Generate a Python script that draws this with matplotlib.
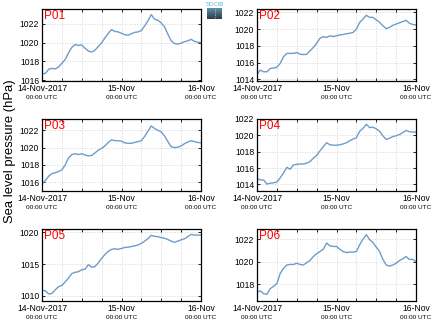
import numpy as np
import matplotlib
matplotlib.use('Agg')
import matplotlib.pyplot as plt
import matplotlib.dates as mdates
from datetime import datetime, timedelta

plt.rcParams['font.family'] = ['Liberation Sans', 'DejaVu Sans']

# hourly sea level pressure (hPa), 14-Nov-2017 00:00 -> 16-Nov 00:00 UTC
START = datetime(2017, 11, 14)
HOURS = list(range(49))

p01 = [1016.7, 1016.7, 1017.15, 1017.25, 1017.2, 1017.4, 1017.8, 1018.2, 1018.9, 1019.5,
       1019.8, 1019.7, 1019.75, 1019.4, 1019.1, 1019.0, 1019.2, 1019.6, 1020.0, 1020.5,
       1021.0, 1021.4, 1021.2, 1021.15, 1021.0, 1020.85, 1020.8, 1020.95, 1021.1, 1021.15,
       1021.3, 1021.8, 1022.35, 1023.0, 1022.5, 1022.4, 1022.1, 1021.7, 1020.9, 1020.2,
       1019.9, 1019.85, 1019.95, 1020.1, 1020.2, 1020.35, 1020.15, 1020.05, 1020.0]
p02 = [1014.6, 1015.1, 1014.9, 1014.9, 1015.3, 1015.35, 1015.45, 1015.9, 1016.7, 1017.1,
       1017.1, 1017.1, 1017.2, 1017.0, 1016.95, 1017.0, 1017.4, 1017.8, 1018.3, 1018.9,
       1019.1, 1019.0, 1019.2, 1019.1, 1019.2, 1019.3, 1019.35, 1019.45, 1019.5, 1019.6,
       1020.0, 1020.8, 1021.2, 1021.65, 1021.4, 1021.4, 1021.1, 1020.8, 1020.4, 1020.05,
       1020.2, 1020.45, 1020.6, 1020.75, 1020.9, 1021.05, 1020.7, 1020.55, 1020.5]
p03 = [1015.8, 1016.2, 1016.7, 1017.0, 1017.1, 1017.25, 1017.45, 1018.0, 1018.8, 1019.2,
       1019.3, 1019.2, 1019.3, 1019.15, 1019.05, 1019.1, 1019.4, 1019.7, 1019.9, 1020.2,
       1020.6, 1020.9, 1020.8, 1020.8, 1020.75, 1020.55, 1020.5, 1020.5, 1020.6, 1020.7,
       1020.8, 1021.3, 1021.9, 1022.5, 1022.2, 1022.0, 1021.8, 1021.35, 1020.7, 1020.1,
       1020.0, 1020.05, 1020.2, 1020.45, 1020.65, 1020.8, 1020.7, 1020.6, 1020.55]
p04 = [1014.75, 1014.55, 1014.55, 1014.05, 1014.15, 1014.2, 1014.3, 1014.8, 1015.4, 1016.1,
       1015.85, 1016.4, 1016.45, 1016.5, 1016.5, 1016.6, 1016.8, 1017.2, 1017.55, 1018.1,
       1018.6, 1019.1, 1018.85, 1018.8, 1018.8, 1018.85, 1018.95, 1019.1, 1019.35, 1019.55,
       1019.7, 1020.5, 1020.85, 1021.35, 1020.95, 1021.0, 1020.8, 1020.5, 1019.95, 1019.5,
       1019.65, 1019.85, 1019.95, 1020.1, 1020.35, 1020.6, 1020.45, 1020.4, 1020.4]
p05 = [1010.9, 1010.8, 1010.3, 1010.4, 1010.95, 1011.45, 1011.65, 1012.2, 1012.8, 1013.5,
       1013.7, 1013.8, 1014.1, 1014.2, 1014.9, 1014.5, 1014.6, 1015.2, 1015.9, 1016.5,
       1017.0, 1017.3, 1017.4, 1017.3, 1017.45, 1017.6, 1017.65, 1017.75, 1017.85, 1018.0,
       1018.25, 1018.6, 1019.0, 1019.5, 1019.35, 1019.3, 1019.15, 1019.05, 1018.85, 1018.6,
       1018.4, 1018.6, 1018.8, 1018.95, 1019.3, 1019.65, 1019.55, 1019.55, 1019.55]
p06 = [1017.3, 1017.4, 1017.15, 1017.1, 1017.6, 1017.8, 1018.05, 1018.95, 1019.4, 1019.7,
       1019.75, 1019.75, 1019.85, 1019.75, 1019.7, 1019.9, 1020.1, 1020.45, 1020.7, 1020.9,
       1021.1, 1021.65, 1021.4, 1021.35, 1021.35, 1021.1, 1020.9, 1020.8, 1020.85, 1020.85,
       1020.9, 1021.5, 1022.0, 1022.4, 1021.95, 1021.7, 1021.3, 1020.9, 1020.2, 1019.7,
       1019.6, 1019.7, 1019.85, 1020.1, 1020.25, 1020.45, 1020.2, 1020.2, 1020.0]

names = ['P01', 'P02', 'P03', 'P04', 'P05', 'P06']
series = [p01, p02, p03, p04, p05, p06]
ylims = [(1015.9, 1023.6), (1013.8, 1022.4), (1015.0, 1023.3),
         (1013.2, 1022.0), (1009.2, 1020.5), (1016.5, 1022.9)]
yticks = [[1016, 1018, 1020, 1022], [1014, 1016, 1018, 1020, 1022], [1016, 1018, 1020, 1022],
          [1014, 1016, 1018, 1020, 1022], [1010, 1015, 1020], [1018, 1020, 1022]]
day_labels = ['14-Nov-2017', '15-Nov', '16-Nov']

times = [START + timedelta(hours=h) for h in HOURS]
tick_times = [START + timedelta(hours=6 * k) for k in range(9)]

fig = plt.figure(figsize=(4.34, 3.27), dpi=100)
W, H = 434.0, 327.0
lefts = [42, 257]
tops = [9, 119, 229]
aw, ah = 159, 72

for i in range(6):
    r, c = i // 2, i % 2
    ax = fig.add_axes([lefts[c] / W, 1 - (tops[r] + ah) / H, aw / W, ah / H])
    ax.plot(times, series[i], color='#6f9cc8', lw=1.0)
    ax.set_xlim(START, START + timedelta(hours=48))
    ax.set_ylim(*ylims[i])
    ax.set_yticks(yticks[i])
    ax.set_yticklabels([str(v) for v in yticks[i]], fontsize=6.2)

    ax.set_xticks(tick_times)
    labs = []
    for t in tick_times:
        labs.append(day_labels[(t - START).days] if t.hour == 0 else '')
    ax.set_xticklabels(labs, fontsize=6.2)
    for t in tick_times:
        if t.hour == 0:
            ax.text(mdates.date2num(t), -0.232, '00:00 UTC', fontsize=4.6,
                    ha='center', va='center',
                    transform=ax.get_xaxis_transform())

    ax.tick_params(direction='in', length=2, width=0.6, top=True, right=True, pad=2)
    ax.tick_params(axis='x', pad=2.5)
    ax.grid(True, color='#c8c8c8', linestyle=(0, (1, 2)), lw=0.6)
    for s in ax.spines.values():
        s.set_linewidth(0.9)
    ax.text(0.012, 0.99, names[i], transform=ax.transAxes, color='red',
            fontsize=8.5, ha='left', va='top')

fig.text(10 / W, 1 - 151 / H, 'Sea level pressure (hPa)', rotation=90, fontsize=9.4,
         ha='center', va='center')

# small logo at top
lax = fig.add_axes([207 / W, 1 - 19 / H, 15 / W, 11 / H])
grad = np.linspace(0, 1, 20).reshape(-1, 1)
lax.imshow(grad, aspect='auto', cmap=matplotlib.colors.LinearSegmentedColormap.from_list(
    'logo', ['#5d8fa8', '#2f3d48']))
lax.axvline(0, color='white', lw=0.5, ls=':')
lax.set_axis_off()
fig.text(214.5 / W, 1 - 5 / H, 'SOCIB', fontsize=4.2, color='#4fb3d9',
         ha='center', va='center')

fig.savefig('out.png', dpi=100)
